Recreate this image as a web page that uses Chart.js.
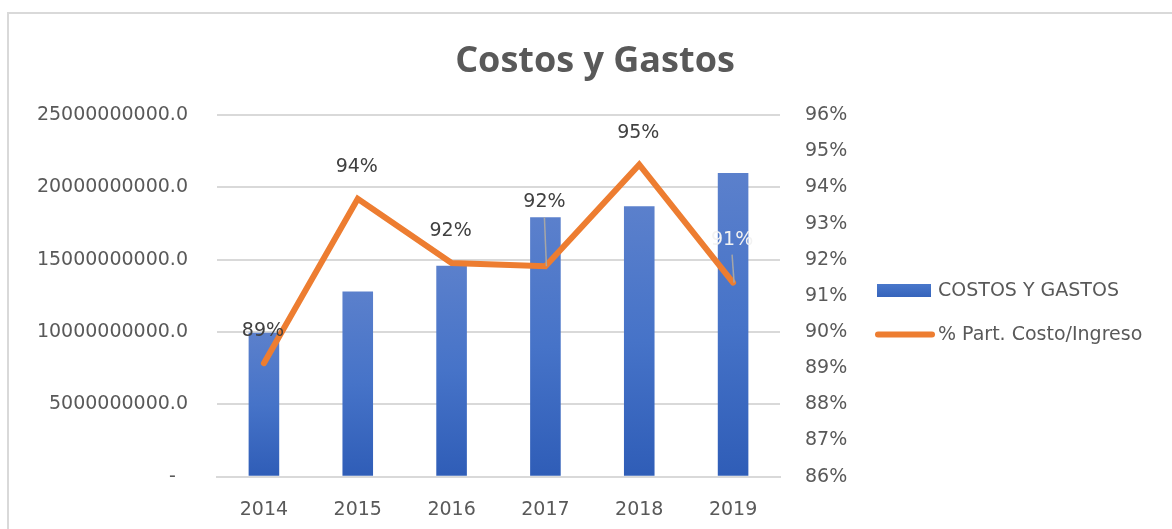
<!DOCTYPE html>
<html>
<head>
<meta charset="utf-8">
<script src="https://cdn.jsdelivr.net/npm/chart.js@4/dist/chart.umd.min.js"></script>
<style>
  html, body { margin: 0; padding: 0; background: #ffffff; overflow: hidden; }
  #wrap { position: relative; width: 1172px; height: 529px; }
  #frame { position: absolute; left: 7px; top: 12px; width: 1200px; height: 600px; border: 2px solid #d9d9d9; box-sizing: border-box; pointer-events: none; }
  canvas { position: absolute; left: 0; top: 0; }
</style>
</head>
<body>
<div id="wrap">
  <canvas id="c" width="1172" height="529"></canvas>
  <div id="frame"></div>
</div>
<script>
// ---- data ----
const categories = ['2014', '2015', '2016', '2017', '2018', '2019'];
const costosGastos = [9950000000, 12810000000, 14590000000, 17940000000, 18700000000, 21010000000];
const partCostoIngreso = [0.8914, 0.9369, 0.9191, 0.9182, 0.9463, 0.9137];
const seriesNames = ['COSTOS Y GASTOS', '% Part. Costo/Ingreso'];
const leftTicks = [0, 5000000000, 10000000000, 15000000000, 20000000000, 25000000000];
const rightTicks = [0.86, 0.87, 0.88, 0.89, 0.90, 0.91, 0.92, 0.93, 0.94, 0.95, 0.96];

const TXT = '#595959';
const FONT = 'DejaVu Sans';

function barGradient(context) {
  const chart = context.chart;
  const area = chart.chartArea;
  if (!area || context.type !== 'data') return '#4472c4';
  const yScale = chart.scales.y;
  const top = yScale.getPixelForValue(context.raw);
  const bottom = yScale.getPixelForValue(0);
  const g = chart.ctx.createLinearGradient(0, top, 0, bottom);
  g.addColorStop(0, '#5b80cc');
  g.addColorStop(0.5, '#4673c8');
  g.addColorStop(1, '#2f5db7');
  return g;
}

const labelPlugin = {
  id: 'pctLabels',
  afterDatasetsDraw(chart, args, opts) {
    const meta = chart.getDatasetMeta(1);
    const ctx = chart.ctx;
    ctx.save();
    ctx.font = '19px "' + FONT + '"';
    ctx.textAlign = 'center';
    ctx.textBaseline = 'middle';
    meta.data.forEach((pt, i) => {
      const v = chart.data.datasets[1].data[i];
      const off = opts.offsets[i];
      const ly = pt.y - off;
      if (opts.leaders[i]) {
        ctx.strokeStyle = '#a6a6a6';
        ctx.lineWidth = 1.5;
        ctx.beginPath();
        ctx.moveTo(pt.x - 1, ly + 15);
        ctx.lineTo(pt.x + 1, pt.y);
        ctx.stroke();
      }
      ctx.fillStyle = opts.colors[i];
      ctx.fillText(Math.round(v * 100) + '%', pt.x - 1, ly);
    });
    ctx.restore();
  }
};

const legendPlugin = {
  id: 'sideLegend',
  afterDraw(chart, args, opts) {
    const ctx = chart.ctx;
    const x0 = opts.x, y0 = opts.y, gap = opts.gap;
    ctx.save();
    ctx.font = '19px "' + FONT + '"';
    ctx.textAlign = 'left';
    ctx.textBaseline = 'middle';
    const g = ctx.createLinearGradient(0, y0 - 7, 0, y0 + 7);
    g.addColorStop(0, '#4a78cb');
    g.addColorStop(1, '#3563bb');
    ctx.fillStyle = g;
    ctx.fillRect(x0, y0 - 6.5, 54, 13);
    ctx.fillStyle = TXT;
    ctx.fillText(chart.data.datasets[0].label, x0 + 61, y0 + 1);
    const y1 = y0 + gap;
    ctx.strokeStyle = '#ed7d31';
    ctx.lineWidth = 6;
    ctx.lineCap = 'round';
    ctx.beginPath();
    ctx.moveTo(x0 + 1, y1);
    ctx.lineTo(x0 + 55, y1);
    ctx.stroke();
    ctx.fillStyle = TXT;
    ctx.fillText(chart.data.datasets[1].label, x0 + 61, y1 + 1);
    ctx.restore();
  }
};

new Chart(document.getElementById('c'), {
  data: {
    labels: categories,
    datasets: [
      {
        type: 'bar',
        label: seriesNames[0],
        data: costosGastos,
        yAxisID: 'y',
        backgroundColor: barGradient,
        barPercentage: 0.326,
        categoryPercentage: 1.0,
        order: 2
      },
      {
        type: 'line',
        label: seriesNames[1],
        data: partCostoIngreso,
        yAxisID: 'y1',
        borderColor: '#ed7d31',
        backgroundColor: '#ed7d31',
        borderWidth: 6,
        pointRadius: 0,
        pointHoverRadius: 0,
        tension: 0,
        borderCapStyle: 'round',
        borderJoinStyle: 'miter',
        order: 1
      }
    ]
  },
  options: {
    responsive: false,
    animation: false,
    events: [],
    layout: { padding: { left: 18, right: 0, top: 0, bottom: 0 } },
    plugins: {
      legend: { display: false },
      tooltip: { enabled: false },
      title: {
        display: true,
        text: 'Costos y Gastos',
        color: TXT,
        font: { family: 'Open Sans', size: 36, weight: 'bold', lineHeight: 1.2 },
        padding: { top: 40, bottom: 32 }
      },
      pctLabels: {
        offsets: [32, 32, 32, 64, 32, 43],
        leaders: [false, false, false, true, false, true],
        colors: ['#404040', '#404040', '#404040', '#404040', '#404040', '#f2f2f2']
      },
      sideLegend: { x: 877, y: 290.5, gap: 44 }
    },
    scales: {
      x: {
        type: 'category',
        offset: true,
        grid: { display: false, drawTicks: false },
        border: { display: true, color: '#d9d9d9', width: 2 },
        ticks: { color: TXT, font: { family: FONT, size: 19 }, padding: 22, maxRotation: 0 },
        afterFit(scale) { scale.height = 52.3; }
      },
      y: {
        type: 'linear',
        position: 'left',
        min: 0,
        max: 25000000000,
        afterBuildTicks(scale) { scale.ticks = leftTicks.map(v => ({ value: v })); },
        grid: { color: '#d9d9d9', lineWidth: 2, drawTicks: false },
        border: { display: false },
        ticks: {
          color: TXT,
          font: { family: FONT, size: 19 },
          padding: 29,
          callback: (v) => v === 0 ? '-  ' : Number(v).toFixed(1)
        },
        afterFit(scale) { scale.width = 199; }
      },
      y1: {
        type: 'linear',
        position: 'right',
        min: 0.86,
        max: 0.96,
        afterBuildTicks(scale) { scale.ticks = rightTicks.map(v => ({ value: v })); },
        grid: { display: false, drawTicks: false },
        border: { display: false },
        ticks: {
          color: TXT,
          font: { family: FONT, size: 19 },
          padding: 25,
          callback: (v) => Math.round(v * 100) + '%'
        },
        afterFit(scale) { scale.width = 392; }
      }
    }
  },
  plugins: [labelPlugin, legendPlugin]
});
</script>
</body>
</html>
